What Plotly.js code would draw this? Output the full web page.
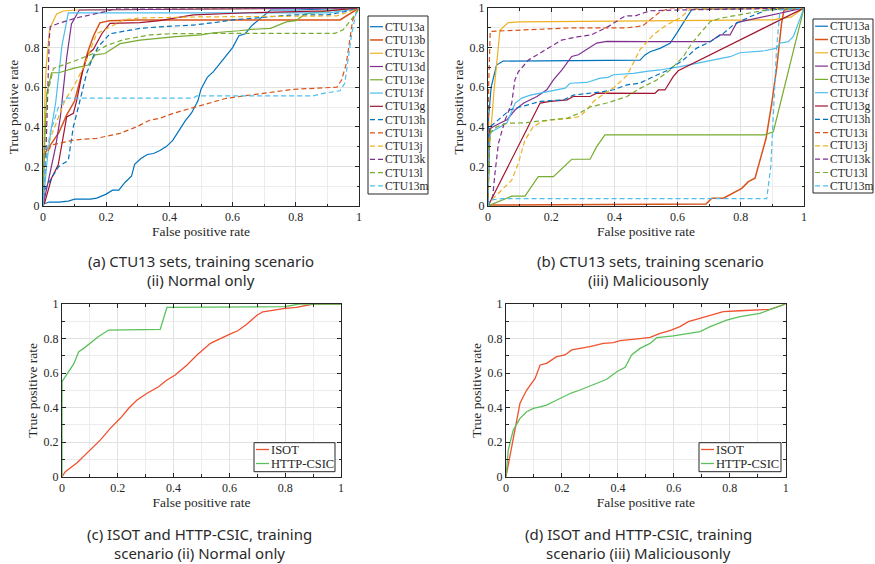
<!DOCTYPE html>
<html>
<head>
<meta charset="utf-8">
<script src="https://cdn.plot.ly/plotly-3.0.1.min.js"></script>
<style>html,body{margin:0;padding:0;background:#fff;}#chart{width:875px;height:564px;}</style>
</head>
<body>
<div id="chart"></div>
<script>
// ---------- series names ----------
const ctuNames = ['CTU13a','CTU13b','CTU13c','CTU13d','CTU13e','CTU13f','CTU13g','CTU13h','CTU13i','CTU13j','CTU13k','CTU13l','CTU13m'];
const webNames = ['ISOT','HTTP-CSIC'];

// ---------- (a) CTU13, training scenario (ii) Normal only ----------
const nA_x = [0,0.02,0.05,0.08,0.1,0.15,0.17,0.2,0.22,0.24,0.26,0.28,0.29,0.31,0.33,0.35,0.37,0.39,0.41,0.43,0.45,0.47,0.49,0.5,0.52,0.54,0.56,0.58,0.6,0.62,0.64,0.66,0.69,0.72,0.8,1];
const nA_y = [0.01,0.02,0.02,0.025,0.035,0.035,0.04,0.06,0.08,0.08,0.12,0.15,0.21,0.24,0.26,0.265,0.28,0.3,0.33,0.38,0.43,0.47,0.53,0.59,0.65,0.68,0.72,0.76,0.8,0.86,0.87,0.91,0.95,0.99,0.99,1];
const nB_x = [0,0.003,0.02,0.05,0.075,0.1,0.12,0.14,0.16,0.18,0.21,0.3,0.5,0.94,1];
const nB_y = [0,0.26,0.3,0.37,0.46,0.53,0.65,0.77,0.86,0.925,0.935,0.94,0.94,0.94,1];
const nC_x = [0,0.005,0.01,0.02,0.027,0.043,0.064,0.1,1];
const nC_y = [0,0.5,0.7,0.88,0.915,0.97,0.985,0.99,1];
const nD_x = [0,0.02,0.04,0.055,0.065,0.075,0.09,0.1,0.115,1];
const nD_y = [0,0.15,0.3,0.45,0.6,0.75,0.92,0.95,0.99,1];
const nE_x = [0,0.005,0.012,0.027,0.05,0.096,0.143,0.165,0.196,0.244,0.307,0.36,0.42,0.5,0.54,0.62,0.66,0.72,0.77,0.8,0.83,0.9,1];
const nE_y = [0,0.3,0.57,0.673,0.673,0.695,0.712,0.763,0.77,0.82,0.838,0.847,0.855,0.864,0.875,0.885,0.892,0.897,0.93,0.936,0.97,0.985,1];
const nF_x = [0,0.005,0.013,0.025,0.04,0.06,0.08,0.5,0.9,0.97,1];
const nF_y = [0,0.1,0.23,0.38,0.52,0.81,0.975,0.975,0.975,0.99,1];
const nG_x = [0,0.006,0.027,0.048,0.075,0.096,0.107,0.125,0.143,0.159,0.186,0.212,0.307,0.37,0.42,0.476,0.655,0.9,1];
const nG_y = [0,0.02,0.14,0.207,0.45,0.468,0.535,0.68,0.77,0.79,0.87,0.922,0.926,0.936,0.95,0.965,0.976,0.985,1];
const nH_x = [0,0.005,0.015,0.05,0.08,0.096,0.112,0.138,0.16,0.175,0.212,0.25,0.307,0.37,0.476,0.56,0.6,0.79,0.9,0.95,1];
const nH_y = [0,0.08,0.11,0.2,0.23,0.4,0.5,0.67,0.76,0.805,0.87,0.88,0.897,0.905,0.914,0.93,0.94,0.965,0.965,0.98,1];
const nI_x = [0,0.005,0.012,0.027,0.096,0.17,0.244,0.296,0.339,0.37,0.412,0.507,0.58,0.697,0.79,0.93,0.945,0.96,0.97,0.98,1];
const nI_y = [0,0.2,0.266,0.308,0.333,0.342,0.367,0.4,0.434,0.443,0.468,0.51,0.544,0.569,0.589,0.6,0.636,0.72,0.82,0.94,1];
const nJ_x = [0,0.005,0.02,0.05,0.07,0.096,0.128,0.17,0.196,0.254,0.307,0.5,0.93,1];
const nJ_y = [0,0.2,0.33,0.45,0.535,0.6,0.7,0.87,0.89,0.94,0.95,0.955,0.96,1];
const nK_x = [0,0.01,0.02,0.023,0.054,0.106,0.2,0.235,1];
const nK_y = [0,0.3,0.85,0.907,0.925,0.95,0.983,1,1];
const nL_x = [0,0.005,0.012,0.033,0.096,0.159,0.2,0.254,0.339,0.4,0.6,0.924,0.95,0.966,0.98,1];
const nL_y = [0,0.35,0.55,0.695,0.73,0.77,0.81,0.84,0.864,0.87,0.872,0.872,0.89,0.92,0.95,1];
const nM_x = [0,0.007,0.023,0.049,0.075,0.37,0.476,0.486,0.855,0.887,0.94,0.955,0.966,0.977,0.99,1];
const nM_y = [0,0.22,0.37,0.5,0.545,0.545,0.545,0.556,0.556,0.569,0.582,0.62,0.74,0.87,0.97,1];

// ---------- (b) CTU13, training scenario (iii) Maliciousonly ----------
const mA_x = [0,0.002,0.01,0.027,0.048,0.2,0.481,0.497,0.513,0.544,0.576,0.597,0.623,0.645,1];
const mA_y = [0,0.45,0.6,0.712,0.732,0.735,0.737,0.763,0.779,0.796,0.822,0.872,0.94,0.993,1];
const mB_x = [0,0.69,0.708,0.745,0.803,0.824,0.845,0.861,0.88,0.898,0.914,0.929,0.937,1];
const mB_y = [0.005,0.01,0.039,0.039,0.089,0.123,0.14,0.232,0.342,0.519,0.703,0.923,0.99,1];
const mC_x = [0,0.005,0.02,0.038,0.064,0.1,0.5,0.9,0.96,1];
const mC_y = [0,0.3,0.6,0.889,0.926,0.93,0.935,0.94,0.955,1];
const mD_x = [0,0.005,0.028,0.06,0.086,0.113,0.155,0.186,0.207,0.234,0.265,0.286,0.344,0.376,0.5,0.703,0.734,0.766,0.787,0.829,0.945,1];
const mD_y = [0,0.39,0.41,0.435,0.486,0.52,0.553,0.587,0.637,0.688,0.755,0.764,0.823,0.831,0.83,0.83,0.864,0.864,0.926,0.94,0.98,1];
const mE_x = [0,0.075,0.117,0.159,0.207,0.265,0.323,0.344,0.37,0.875,0.903,1];
const mE_y = [0,0.05,0.05,0.148,0.148,0.236,0.236,0.3,0.359,0.359,0.375,1];
const mF_x = [0,0.003,0.007,0.06,0.086,0.107,0.134,0.165,0.218,0.244,0.26,0.313,0.355,0.38,0.397,0.46,0.502,0.544,0.608,0.692,0.766,0.797,0.876,0.913,0.924,0.95,0.966,1];
const mF_y = [0,0.3,0.37,0.42,0.52,0.545,0.56,0.57,0.587,0.595,0.62,0.624,0.646,0.65,0.663,0.67,0.68,0.687,0.704,0.729,0.754,0.774,0.784,0.797,0.822,0.83,0.855,1];
const mG_x = [0,0.165,0.197,0.25,0.27,0.323,0.344,0.481,0.528,0.539,0.56,0.586,0.602,1];
const mG_y = [0,0.52,0.528,0.536,0.553,0.553,0.57,0.569,0.569,0.586,0.586,0.653,0.683,1];
const mH_x = [0,0.003,0.007,0.03,0.07,0.102,0.165,0.24,0.27,0.365,0.397,0.44,0.48,0.523,0.571,0.618,0.66,0.703,0.745,0.776,0.829,0.882,1];
const mH_y = [0,0.3,0.4,0.43,0.486,0.5,0.528,0.536,0.56,0.578,0.587,0.612,0.62,0.653,0.687,0.737,0.797,0.83,0.872,0.914,0.956,0.99,1];
const mI_x = [0,0.002,0.007,0.06,0.27,0.44,0.49,0.513,0.544,0.576,1];
const mI_y = [0,0.6,0.882,0.885,0.9,0.9,0.91,0.94,0.98,1,1];
const mJ_x = [0,0.006,0.043,0.075,0.096,0.117,0.143,0.17,0.2,0.26,0.29,0.313,0.334,0.355,0.4,0.44,0.481,0.523,0.565,0.608,0.639,1];
const mJ_y = [0,0.022,0.08,0.13,0.216,0.333,0.4,0.426,0.435,0.443,0.452,0.486,0.528,0.553,0.6,0.66,0.79,0.865,0.914,0.95,0.993,1];
const mK_x = [0,0.015,0.022,0.033,0.054,0.075,0.085,0.096,0.128,0.18,0.233,0.286,0.327,0.38,0.434,0.465,0.513,0.6,1];
const mK_y = [0,0.05,0.165,0.316,0.434,0.519,0.636,0.678,0.737,0.788,0.838,0.855,0.864,0.906,0.96,0.96,0.986,0.99,1];
const mL_x = [0,0.003,0.007,0.028,0.06,0.113,0.197,0.25,0.29,0.323,0.376,0.44,0.481,0.534,0.576,0.618,0.645,0.676,0.703,0.734,0.797,0.882,1];
const mL_y = [0,0.3,0.37,0.4,0.418,0.42,0.435,0.443,0.47,0.5,0.52,0.553,0.594,0.636,0.687,0.754,0.822,0.88,0.931,0.948,0.965,0.99,1];
const mM_x = [0,0.006,0.043,0.5,0.882,0.895,0.903,0.913,0.924,1];
const mM_y = [0,0.03,0.037,0.037,0.037,0.2,0.45,0.79,0.99,1];

// ---------- (c) ISOT / HTTP-CSIC, Normal only ----------
const cIsot_x = [0,0.012,0.054,0.102,0.137,0.173,0.209,0.239,0.269,0.305,0.346,0.376,0.406,0.448,0.484,0.532,0.567,0.6,0.63,0.66,0.7,0.72,0.76,0.8,0.84,0.9,1];
const cIsot_y = [0,0.029,0.081,0.154,0.212,0.28,0.338,0.396,0.444,0.483,0.521,0.56,0.589,0.647,0.705,0.772,0.8,0.824,0.845,0.88,0.936,0.955,0.965,0.975,0.98,1,1];
const cCsic_x = [0,0,0.042,0.06,0.078,0.102,0.13,0.167,0.28,0.352,0.376,0.6,0.8,0.85,1];
const cCsic_y = [0,0.55,0.653,0.724,0.743,0.776,0.81,0.849,0.849,0.853,0.98,0.982,0.985,1,1];

// ---------- (d) ISOT / HTTP-CSIC, Maliciousonly ----------
const dIsot_x = [0,0.05,0.074,0.104,0.122,0.145,0.181,0.211,0.235,0.265,0.3,0.348,0.384,0.408,0.443,0.479,0.515,0.551,0.586,0.622,0.652,0.694,0.741,0.777,0.837,0.896,0.944,1];
const dIsot_y = [0,0.425,0.502,0.569,0.647,0.656,0.695,0.705,0.734,0.743,0.753,0.772,0.776,0.788,0.792,0.8,0.807,0.83,0.846,0.869,0.898,0.917,0.942,0.956,0.961,0.965,0.969,1];
const dCsic_x = [0,0.008,0.026,0.05,0.074,0.098,0.122,0.145,0.169,0.205,0.235,0.265,0.3,0.324,0.36,0.396,0.426,0.449,0.479,0.515,0.539,0.598,0.658,0.694,0.73,0.789,0.837,0.908,0.956,1];
const dCsic_y = [0,0.154,0.27,0.338,0.376,0.396,0.405,0.415,0.434,0.463,0.486,0.502,0.525,0.537,0.564,0.608,0.633,0.705,0.743,0.772,0.805,0.815,0.83,0.84,0.869,0.907,0.927,0.946,0.975,1];

// ---------- styles ----------
const ctuColors = ['#0072BD','#D95319','#EDB120','#7E2F8E','#77AC30','#4DBEEE','#A2142F'];
const webColors = ['#F0512E','#5CC15C'];
const DASH = '5px,3px';

const normalXs = [nA_x,nB_x,nC_x,nD_x,nE_x,nF_x,nG_x,nH_x,nI_x,nJ_x,nK_x,nL_x,nM_x];
const normalYs = [nA_y,nB_y,nC_y,nD_y,nE_y,nF_y,nG_y,nH_y,nI_y,nJ_y,nK_y,nL_y,nM_y];
const malXs = [mA_x,mB_x,mC_x,mD_x,mE_x,mF_x,mG_x,mH_x,mI_x,mJ_x,mK_x,mL_x,mM_x];
const malYs = [mA_y,mB_y,mC_y,mD_y,mE_y,mF_y,mG_y,mH_y,mI_y,mJ_y,mK_y,mL_y,mM_y];

function ctuStyle(i){
  return {color: ctuColors[i % 7], width: i===1 ? 1.5 : 1.2, dash: i >= 7 ? DASH : 'solid'};
}

const traces = [];
ctuNames.forEach((n,i)=>{
  traces.push({type:'scatter', mode:'lines', name:n, x:normalXs[i], y:normalYs[i], xaxis:'x', yaxis:'y', line:ctuStyle(i), showlegend:false, hoverinfo:'skip'});
});
ctuNames.forEach((n,i)=>{
  traces.push({type:'scatter', mode:'lines', name:n, x:malXs[i], y:malYs[i], xaxis:'x2', yaxis:'y2', line:ctuStyle(i), showlegend:false, hoverinfo:'skip'});
});
traces.push({type:'scatter', mode:'lines', name:webNames[0], x:cIsot_x, y:cIsot_y, xaxis:'x3', yaxis:'y3', line:{color:webColors[0], width:1.3}, showlegend:false});
traces.push({type:'scatter', mode:'lines', name:webNames[1], x:cCsic_x, y:cCsic_y, xaxis:'x3', yaxis:'y3', line:{color:webColors[1], width:1.3}, showlegend:false});
traces.push({type:'scatter', mode:'lines', name:webNames[0], x:dIsot_x, y:dIsot_y, xaxis:'x4', yaxis:'y4', line:{color:webColors[0], width:1.3}, showlegend:false});
traces.push({type:'scatter', mode:'lines', name:webNames[1], x:dCsic_x, y:dCsic_y, xaxis:'x4', yaxis:'y4', line:{color:webColors[1], width:1.3}, showlegend:false});

// ---------- layout helpers ----------
const W = 875, H = 564;
const px = v => v / W;
const py = v => 1 - v / H;
const AX = '#262626';
const serif = 'Liberation Serif';

function axis(d0, d1, anchor, title, standoff){
  return {
    domain:[d0, d1], anchor:anchor, range:[0,1], autorange:false, tick0:0, dtick:0.2,
    ticks:'inside', ticklen:4, tickcolor:AX, tickwidth:1,
    showline:true, linecolor:AX, linewidth:1, mirror:'ticks',
    showgrid:true, gridcolor:'#e2e2e2', gridwidth:1, zeroline:false,
    tickfont:{family:serif, size:12, color:AX},
    minor:{tick0:0, dtick:0.1, showgrid:true, gridcolor:'#ececec', gridwidth:1, ticks:'inside', ticklen:2.5, tickcolor:AX},
    title:{text:title, font:{family:serif, size:13.5, color:AX}, standoff:standoff},
    fixedrange:true
  };
}

const layout = {
  width:W, height:H, margin:{l:0,r:0,t:0,b:0}, paper_bgcolor:'#fff', plot_bgcolor:'#fff',
  showlegend:false,
  font:{family:serif},
  xaxis:  axis(px(43),  px(359), 'y',  'False positive rate', 2),
  yaxis:  axis(py(206), py(8),   'x',  'True positive rate', 2),
  xaxis2: axis(px(488), px(804), 'y2', 'False positive rate', 2),
  yaxis2: axis(py(206), py(8),   'x2', 'True positive rate', 2),
  xaxis3: axis(px(62),  px(341), 'y3', 'False positive rate', 2),
  yaxis3: axis(py(476.7), py(304), 'x3', 'True positive rate', 2),
  xaxis4: axis(px(506), px(785.7), 'y4', 'False positive rate', 2),
  yaxis4: axis(py(476.7), py(304), 'x4', 'True positive rate', 2),
  shapes:[], annotations:[]
};

// ---------- manual legends (boxes, samples, labels) ----------
function legend(box, firstY, step, names, styles, fsize){
  layout.shapes.push({type:'rect', xref:'paper', yref:'paper', x0:px(box[0]), x1:px(box[1]), y0:py(box[3]), y1:py(box[2]),
    line:{color:AX, width:1}, fillcolor:'#fff', layer:'above'});
  names.forEach((n,i)=>{
    const yy = firstY + i*step;
    const st = styles[i];
    layout.shapes.push({type:'line', xref:'paper', yref:'paper', x0:px(box[0]+2), x1:px(box[0]+15), y0:py(yy), y1:py(yy),
      line:{color:st.color, width:st.width, dash:st.dash}, layer:'above'});
    layout.annotations.push({xref:'paper', yref:'paper', x:px(box[0]+15), y:py(yy), xanchor:'left', yanchor:'middle',
      text:n, showarrow:false, font:{family:serif, size:fsize, color:AX}});
  });
}
const ctuStyles = ctuNames.map((n,i)=>ctuStyle(i));
const webStyles = webColors.map(c=>({color:c, width:1.3, dash:'solid'}));
legend([368,428,16,194], 26.7, 13.27, ctuNames, ctuStyles, 11.5);
legend([813,873,19,193], 26.2, 13.3, ctuNames, ctuStyles, 11.5);
legend([254,335,442.7,471.7], 449.5, 14, webNames, webStyles, 12.5);
legend([699,781,442.7,471.7], 449.5, 14, webNames, webStyles, 12.5);

// ---------- captions ----------
const capFont = {family:'Noto Sans', size:15, color:'#2a2a2a'};
function caption(cx, cy, text){
  layout.annotations.push({xref:'paper', yref:'paper', x:px(cx), y:py(cy), xanchor:'center', yanchor:'middle', text:text, showarrow:false, font:capFont});
}
caption(201, 261, '(a) CTU13 sets, training scenario');
caption(201, 280, '(ii) Normal only');
caption(650, 261, '(b) CTU13 sets, training scenario');
caption(648, 280, '(iii) Maliciousonly');
caption(199, 534, '(c) ISOT and HTTP-CSIC, training');
caption(199, 553, 'scenario (ii) Normal only');
caption(638, 534, '(d) ISOT and HTTP-CSIC, training');
caption(638, 553, 'scenario (iii) Maliciousonly');

Plotly.newPlot('chart', traces, layout, {staticPlot:true, displayModeBar:false});
</script>
</body>
</html>
